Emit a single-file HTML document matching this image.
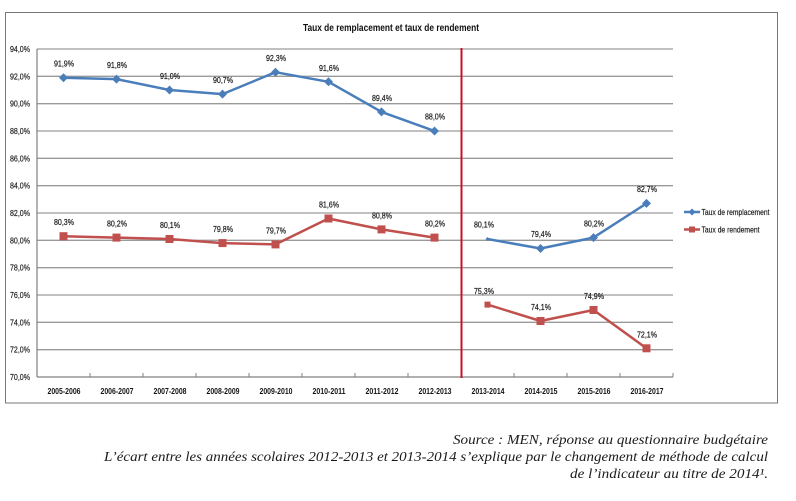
<!DOCTYPE html>
<html>
<head>
<meta charset="utf-8">
<style>
  html,body{margin:0;padding:0;background:#fff;}
  svg{display:block;}
  .yl{font-family:"Liberation Sans",sans-serif;font-size:8.5px;fill:#111;stroke:#333;stroke-width:0.2px;}
  .xl{font-family:"Liberation Sans",sans-serif;font-size:8.5px;font-weight:bold;fill:#111;}
  .dl{font-family:"Liberation Sans",sans-serif;font-size:8.5px;fill:#111;stroke:#333;stroke-width:0.25px;}
  .tt{font-family:"Liberation Sans",sans-serif;font-size:10px;font-weight:bold;fill:#111;}
  .lg{font-family:"Liberation Sans",sans-serif;font-size:8.5px;fill:#111;stroke:#333;stroke-width:0.2px;}
  .src{font-family:"Liberation Serif",serif;font-style:italic;font-size:13.5px;fill:#1a1a1a;}
</style>
</head>
<body>
<svg width="796" height="501" viewBox="0 0 796 501" xmlns="http://www.w3.org/2000/svg">
  <!-- frame -->
  <rect x="5.5" y="12.5" width="772" height="390.5" fill="#fff" stroke="#777" stroke-width="1"/>
  <!-- title -->
  <text class="tt" x="303" y="31" textLength="176" lengthAdjust="spacingAndGlyphs">Taux de remplacement et taux de rendement</text>

  <!-- gridlines -->
  <g stroke="#9a9a9a" stroke-width="1.3">
    <line x1="37" y1="49" x2="673" y2="49"/>
    <line x1="37" y1="76.3" x2="673" y2="76.3"/>
    <line x1="37" y1="103.7" x2="673" y2="103.7"/>
    <line x1="37" y1="131" x2="673" y2="131"/>
    <line x1="37" y1="158.3" x2="673" y2="158.3"/>
    <line x1="37" y1="185.7" x2="673" y2="185.7"/>
    <line x1="37" y1="213" x2="673" y2="213"/>
    <line x1="37" y1="240.3" x2="673" y2="240.3"/>
    <line x1="37" y1="267.7" x2="673" y2="267.7"/>
    <line x1="37" y1="295" x2="673" y2="295"/>
    <line x1="37" y1="322.3" x2="673" y2="322.3"/>
    <line x1="37" y1="349.7" x2="673" y2="349.7"/>
  </g>
  <!-- axes -->
  <line x1="37" y1="49" x2="37" y2="377" stroke="#808080" stroke-width="1.2"/>
  <line x1="37" y1="377" x2="673" y2="377" stroke="#808080" stroke-width="1.2"/>
  <g stroke="#808080" stroke-width="1">
    <line x1="90" y1="373" x2="90" y2="377"/>
    <line x1="143" y1="373" x2="143" y2="377"/>
    <line x1="196" y1="373" x2="196" y2="377"/>
    <line x1="249" y1="373" x2="249" y2="377"/>
    <line x1="302" y1="373" x2="302" y2="377"/>
    <line x1="355" y1="373" x2="355" y2="377"/>
    <line x1="408" y1="373" x2="408" y2="377"/>
    <line x1="514" y1="373" x2="514" y2="377"/>
    <line x1="567" y1="373" x2="567" y2="377"/>
    <line x1="620" y1="373" x2="620" y2="377"/>
    <line x1="673" y1="373" x2="673" y2="377"/>
  </g>

  <!-- y labels -->
  <g class="yl" text-anchor="end">
    <text x="30" y="52" textLength="20" lengthAdjust="spacingAndGlyphs">94,0%</text>
    <text x="30" y="79.3" textLength="20" lengthAdjust="spacingAndGlyphs">92,0%</text>
    <text x="30" y="106.7" textLength="20" lengthAdjust="spacingAndGlyphs">90,0%</text>
    <text x="30" y="134" textLength="20" lengthAdjust="spacingAndGlyphs">88,0%</text>
    <text x="30" y="161.3" textLength="20" lengthAdjust="spacingAndGlyphs">86,0%</text>
    <text x="30" y="188.7" textLength="20" lengthAdjust="spacingAndGlyphs">84,0%</text>
    <text x="30" y="216" textLength="20" lengthAdjust="spacingAndGlyphs">82,0%</text>
    <text x="30" y="243.3" textLength="20" lengthAdjust="spacingAndGlyphs">80,0%</text>
    <text x="30" y="270.7" textLength="20" lengthAdjust="spacingAndGlyphs">78,0%</text>
    <text x="30" y="298" textLength="20" lengthAdjust="spacingAndGlyphs">76,0%</text>
    <text x="30" y="325.3" textLength="20" lengthAdjust="spacingAndGlyphs">74,0%</text>
    <text x="30" y="352.7" textLength="20" lengthAdjust="spacingAndGlyphs">72,0%</text>
    <text x="30" y="380" textLength="20" lengthAdjust="spacingAndGlyphs">70,0%</text>
  </g>

  <!-- x labels -->
  <g class="xl" text-anchor="middle">
    <text x="64" y="394" textLength="33" lengthAdjust="spacingAndGlyphs">2005-2006</text>
    <text x="117" y="394" textLength="33" lengthAdjust="spacingAndGlyphs">2006-2007</text>
    <text x="170" y="394" textLength="33" lengthAdjust="spacingAndGlyphs">2007-2008</text>
    <text x="223" y="394" textLength="33" lengthAdjust="spacingAndGlyphs">2008-2009</text>
    <text x="276" y="394" textLength="33" lengthAdjust="spacingAndGlyphs">2009-2010</text>
    <text x="329" y="394" textLength="33" lengthAdjust="spacingAndGlyphs">2010-2011</text>
    <text x="382" y="394" textLength="33" lengthAdjust="spacingAndGlyphs">2011-2012</text>
    <text x="435" y="394" textLength="33" lengthAdjust="spacingAndGlyphs">2012-2013</text>
    <text x="488" y="394" textLength="33" lengthAdjust="spacingAndGlyphs">2013-2014</text>
    <text x="541" y="394" textLength="33" lengthAdjust="spacingAndGlyphs">2014-2015</text>
    <text x="594" y="394" textLength="33" lengthAdjust="spacingAndGlyphs">2015-2016</text>
    <text x="647" y="394" textLength="33" lengthAdjust="spacingAndGlyphs">2016-2017</text>
  </g>

  <!-- red vertical separator -->
  <line x1="461.5" y1="48" x2="461.5" y2="378" stroke="#c8102e" stroke-width="2"/>

  <!-- blue series -->
  <g fill="none" stroke="#4a7ebb" stroke-width="2.5" stroke-linejoin="round">
    <polyline points="63.5,77.7 116.5,79.1 169.5,90 222.5,94.1 275.5,72.2 328.5,81.8 381.5,111.9 434.5,131"/>
    <polyline points="487.5,239 540.5,248.5 593.5,237.6 646.5,203.4"/>
  </g>
  <g fill="#4a7ebb">
    <path d="M63.5,73.2 L68,77.7 L63.5,82.2 L59,77.7 Z"/>
    <path d="M116.5,74.6 L121,79.1 L116.5,83.6 L112,79.1 Z"/>
    <path d="M169.5,85.5 L174,90 L169.5,94.5 L165,90 Z"/>
    <path d="M222.5,89.6 L227,94.1 L222.5,98.6 L218,94.1 Z"/>
    <path d="M275.5,67.7 L280,72.2 L275.5,76.7 L271,72.2 Z"/>
    <path d="M328.5,77.3 L333,81.8 L328.5,86.3 L324,81.8 Z"/>
    <path d="M381.5,107.4 L386,111.9 L381.5,116.4 L377,111.9 Z"/>
    <path d="M434.5,126.5 L439,131 L434.5,135.5 L430,131 Z"/>
    <path d="M487.5,237 L489.5,239 L487.5,241 L485.5,239 Z"/>
    <path d="M540.5,244 L545,248.5 L540.5,253 L536,248.5 Z"/>
    <path d="M593.5,233.1 L598,237.6 L593.5,242.1 L589,237.6 Z"/>
    <path d="M646.5,198.9 L651,203.4 L646.5,207.9 L642,203.4 Z"/>
  </g>

  <!-- red series -->
  <g fill="none" stroke="#c0504d" stroke-width="2.5" stroke-linejoin="round">
    <polyline points="63.5,236.2 116.5,237.6 169.5,239 222.5,243.1 275.5,244.4 328.5,218.5 381.5,229.4 434.5,237.6"/>
    <polyline points="487.5,304.6 540.5,321 593.5,310 646.5,348.3"/>
  </g>
  <g fill="#c0504d">
    <rect x="59.5" y="232.2" width="8" height="8"/>
    <rect x="112.5" y="233.6" width="8" height="8"/>
    <rect x="165.5" y="235" width="8" height="8"/>
    <rect x="218.5" y="239.1" width="8" height="8"/>
    <rect x="271.5" y="240.4" width="8" height="8"/>
    <rect x="324.5" y="214.5" width="8" height="8"/>
    <rect x="377.5" y="225.4" width="8" height="8"/>
    <rect x="430.5" y="233.6" width="8" height="8"/>
    <rect x="484.5" y="301.6" width="6" height="6"/>
    <rect x="536.5" y="317" width="8" height="8"/>
    <rect x="589.5" y="306" width="8" height="8"/>
    <rect x="642.5" y="344.3" width="8" height="8"/>
  </g>

  <!-- data labels blue -->
  <g class="dl" text-anchor="middle">
    <text x="64" y="66.5" textLength="20" lengthAdjust="spacingAndGlyphs">91,9%</text>
    <text x="117" y="68" textLength="20" lengthAdjust="spacingAndGlyphs">91,8%</text>
    <text x="170" y="79" textLength="20" lengthAdjust="spacingAndGlyphs">91,0%</text>
    <text x="223" y="83" textLength="20" lengthAdjust="spacingAndGlyphs">90,7%</text>
    <text x="276" y="61" textLength="20" lengthAdjust="spacingAndGlyphs">92,3%</text>
    <text x="329" y="71" textLength="20" lengthAdjust="spacingAndGlyphs">91,6%</text>
    <text x="382" y="101" textLength="20" lengthAdjust="spacingAndGlyphs">89,4%</text>
    <text x="435" y="119.5" textLength="20" lengthAdjust="spacingAndGlyphs">88,0%</text>
    <text x="484" y="227.5" textLength="20" lengthAdjust="spacingAndGlyphs">80,1%</text>
    <text x="541" y="237" textLength="20" lengthAdjust="spacingAndGlyphs">79,4%</text>
    <text x="594" y="226.5" textLength="20" lengthAdjust="spacingAndGlyphs">80,2%</text>
    <text x="647" y="192" textLength="20" lengthAdjust="spacingAndGlyphs">82,7%</text>
  </g>
  <!-- data labels red -->
  <g class="dl" text-anchor="middle">
    <text x="64" y="225" textLength="20" lengthAdjust="spacingAndGlyphs">80,3%</text>
    <text x="117" y="226.5" textLength="20" lengthAdjust="spacingAndGlyphs">80,2%</text>
    <text x="170" y="228" textLength="20" lengthAdjust="spacingAndGlyphs">80,1%</text>
    <text x="223" y="232" textLength="20" lengthAdjust="spacingAndGlyphs">79,8%</text>
    <text x="276" y="233.5" textLength="20" lengthAdjust="spacingAndGlyphs">79,7%</text>
    <text x="329" y="207.5" textLength="20" lengthAdjust="spacingAndGlyphs">81,6%</text>
    <text x="382" y="218.5" textLength="20" lengthAdjust="spacingAndGlyphs">80,8%</text>
    <text x="435" y="226.5" textLength="20" lengthAdjust="spacingAndGlyphs">80,2%</text>
    <text x="484" y="294" textLength="20" lengthAdjust="spacingAndGlyphs">75,3%</text>
    <text x="541" y="310" textLength="20" lengthAdjust="spacingAndGlyphs">74,1%</text>
    <text x="594" y="299" textLength="20" lengthAdjust="spacingAndGlyphs">74,9%</text>
    <text x="647" y="337.5" textLength="20" lengthAdjust="spacingAndGlyphs">72,1%</text>
  </g>

  <!-- legend -->
  <line x1="684" y1="212" x2="700" y2="212" stroke="#4a7ebb" stroke-width="2.5"/>
  <path d="M692,208.5 L695.5,212 L692,215.5 L688.5,212 Z" fill="#4a7ebb"/>
  <text class="lg" x="701.5" y="215" textLength="68" lengthAdjust="spacingAndGlyphs">Taux de remplacement</text>
  <line x1="684" y1="229.5" x2="700" y2="229.5" stroke="#c0504d" stroke-width="2.5"/>
  <rect x="689" y="226.5" width="6" height="6" fill="#c0504d"/>
  <text class="lg" x="701.5" y="232.5" textLength="58" lengthAdjust="spacingAndGlyphs">Taux de rendement</text>

  <!-- source text -->
  <text class="src" x="768" y="444" text-anchor="end" textLength="315" lengthAdjust="spacingAndGlyphs">Source : MEN, réponse au questionnaire budgétaire</text>
  <text class="src" x="768" y="461" text-anchor="end" textLength="664" lengthAdjust="spacingAndGlyphs">L’écart entre les années scolaires 2012-2013 et 2013-2014 s’explique par le changement de méthode de calcul</text>
  <text class="src" x="768" y="478" text-anchor="end" textLength="198" lengthAdjust="spacingAndGlyphs">de l’indicateur au titre de 2014¹.</text>
</svg>
</body>
</html>
